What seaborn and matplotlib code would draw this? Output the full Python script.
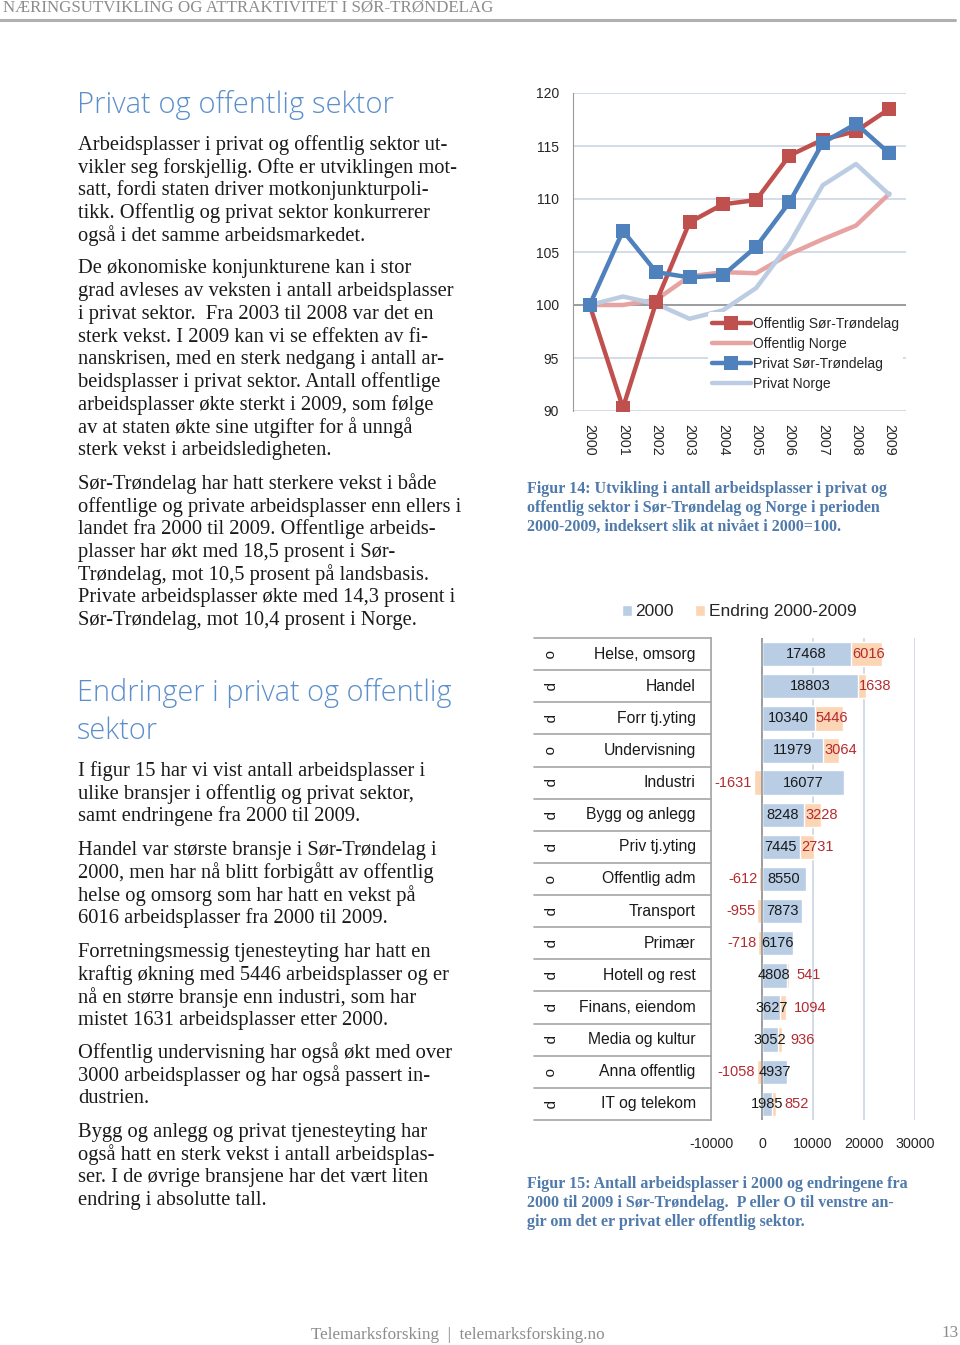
import matplotlib
matplotlib.use("Agg")
import matplotlib.pyplot as plt
import matplotlib.transforms as mtransforms
from matplotlib.lines import Line2D
import seaborn as sns
import pandas as pd
import numpy as np

W, H = 960, 1345

# --- Figur 14: indeks, 2000 = 100 ---
years = [str(y) for y in range(2000, 2010)]
off_st = [100, 90.3, 100.3, 107.8, 109.5, 109.9, 114.1, 115.6, 116.4, 118.5]
off_no = [100, 100.0, 100.5, 102.7, 103.1, 103.0, 104.8, 106.2, 107.5, 110.5]
priv_st = [100, 107.0, 103.1, 102.6, 102.8, 105.5, 109.7, 115.3, 117.1, 114.3]
priv_no = [100, 100.8, 100.1, 98.7, 99.5, 101.6, 105.8, 111.3, 113.3, 110.4]
series_names = ["Offentlig Sør-Trøndelag", "Offentlig Norge",
                "Privat Sør-Trøndelag", "Privat Norge"]
y_ticks = [90, 95, 100, 105, 110, 115, 120]

# --- Figur 15: arbeidsplasser 2000 og endring 2000-2009 ---
sectors = ["o", "p", "p", "o", "p", "p", "p", "o", "p", "p", "p", "p", "p", "o", "p"]
branches = ["Helse, omsorg", "Handel", "Forr tj.yting", "Undervisning", "Industri",
            "Bygg og anlegg", "Priv tj.yting", "Offentlig adm", "Transport", "Primær",
            "Hotell og rest", "Finans, eiendom", "Media og kultur", "Anna offentlig",
            "IT og telekom"]
jobs_2000 = [17468, 18803, 10340, 11979, 16077, 8248, 7445, 8550, 7873, 6176,
             4808, 3627, 3052, 4937, 1985]
change = [6016, 1638, 5446, 3064, -1631, 3228, 2731, -612, -955, -718,
          541, 1094, 936, -1058, 852]
x_ticks = [-10000, 0, 10000, 20000, 30000]

# text of the page
header = "NÆRINGSUTVIKLING OG ATTRAKTIVITET I SØR-TRØNDELAG"
heading1 = ["Privat og offentlig sektor"]
heading2 = ["Endringer i privat og offentlig", "sektor"]
paragraphs = [
    ["Arbeidsplasser i privat og offentlig sektor ut-",
     "vikler seg forskjellig. Ofte er utviklingen mot-",
     "satt, fordi staten driver motkonjunkturpoli-",
     "tikk. Offentlig og privat sektor konkurrerer",
     "også i det samme arbeidsmarkedet."],
    ["De økonomiske konjunkturene kan i stor",
     "grad avleses av veksten i antall arbeidsplasser",
     "i privat sektor.  Fra 2003 til 2008 var det en",
     "sterk vekst. I 2009 kan vi se effekten av fi-",
     "nanskrisen, med en sterk nedgang i antall ar-",
     "beidsplasser i privat sektor. Antall offentlige",
     "arbeidsplasser økte sterkt i 2009, som følge",
     "av at staten økte sine utgifter for å unngå",
     "sterk vekst i arbeidsledigheten."],
    ["Sør-Trøndelag har hatt sterkere vekst i både",
     "offentlige og private arbeidsplasser enn ellers i",
     "landet fra 2000 til 2009. Offentlige arbeids-",
     "plasser har økt med 18,5 prosent i Sør-",
     "Trøndelag, mot 10,5 prosent på landsbasis.",
     "Private arbeidsplasser økte med 14,3 prosent i",
     "Sør-Trøndelag, mot 10,4 prosent i Norge."],
    ["I figur 15 har vi vist antall arbeidsplasser i",
     "ulike bransjer i offentlig og privat sektor,",
     "samt endringene fra 2000 til 2009."],
    ["Handel var største bransje i Sør-Trøndelag i",
     "2000, men har nå blitt forbigått av offentlig",
     "helse og omsorg som har hatt en vekst på",
     "6016 arbeidsplasser fra 2000 til 2009."],
    ["Forretningsmessig tjenesteyting har hatt en",
     "kraftig økning med 5446 arbeidsplasser og er",
     "nå en større bransje enn industri, som har",
     "mistet 1631 arbeidsplasser etter 2000."],
    ["Offentlig undervisning har også økt med over",
     "3000 arbeidsplasser og har også passert in-",
     "dustrien."],
    ["Bygg og anlegg og privat tjenesteyting har",
     "også hatt en sterk vekst i antall arbeidsplas-",
     "ser. I de øvrige bransjene har det vært liten",
     "endring i absolutte tall."],
]
para_top = [145, 269, 484, 771, 850, 952, 1053, 1132]
caption14 = ["Figur 14: Utvikling i antall arbeidsplasser i privat og",
             "offentlig sektor i Sør-Trøndelag og Norge i perioden",
             "2000-2009, indeksert slik at nivået i 2000=100."]
caption15 = ["Figur 15: Antall arbeidsplasser i 2000 og endringene fra",
             "2000 til 2009 i Sør-Trøndelag.  P eller O til venstre an-",
             "gir om det er privat eller offentlig sektor."]

sns.set_style("white")
plt.rcParams["font.family"] = ["Liberation Sans", "DejaVu Sans"]
plt.rcParams["axes.unicode_minus"] = False

SERIF = ["Liberation Serif", "DejaVu Serif"]
HEAD_FONT = ["Open Sans", "DejaVu Sans"]
HEAD_BLUE = "#5b8fcb"
CAP_BLUE = "#4f7aab"
GRID = "#c8d3e0"
AXIS_GRAY = "#9a9a9a"


def fx(x):
    return x / W


def fy(y):
    return 1 - y / H


def rect(x0, y0, x1, y1):
    return [fx(x0), fy(y1), fx(x1) - fx(x0), fy(y0) - fy(y1)]


fig = plt.figure(figsize=(W / 100, H / 100), dpi=100)

# page furniture
fig.text(fx(3), fy(8), header, family=SERIF, fontsize=12.2, color="#8c8c8c",
         ha="left", va="center")
fig.add_artist(Line2D([0, fx(955)], [fy(20), fy(20)], color="#b0b0b0", lw=2.2))
fig.text(fx(458), fy(1335), "Telemarksforsking  |  telemarksforsking.no", family=SERIF,
         fontsize=12.3, color="#8c8c8c", ha="center", va="center")
fig.text(fx(959), fy(1333), "13", family=SERIF, fontsize=12.3, color="#8c8c8c",
         ha="right", va="center")

# left column text
LINE = 22.7
fig.text(fx(77), fy(105), heading1[0], family=HEAD_FONT,
         fontsize=21, fontweight="light", color=HEAD_BLUE, ha="left", va="center")
for k, line in enumerate(heading2):
    fig.text(fx(77), fy(693 + 38 * k), line, family=HEAD_FONT,
             fontsize=20.8, fontweight="light", color=HEAD_BLUE, ha="left", va="center")
for top, para in zip(para_top, paragraphs):
    for k, line in enumerate(para):
        fig.text(fx(78), fy(top + LINE * k), line, family=SERIF, fontsize=14.8,
                 color="#1a1a1a", ha="left", va="center")

for k, line in enumerate(caption14):
    fig.text(fx(527), fy(489 + 19 * k), line, family=SERIF, fontsize=11.5, fontweight="bold",
             color=CAP_BLUE, ha="left", va="center")
for k, line in enumerate(caption15):
    fig.text(fx(527), fy(1184 + 19 * k), line, family=SERIF, fontsize=11.5, fontweight="bold",
             color=CAP_BLUE, ha="left", va="center")

# ---------------- Figur 14: line chart ----------------
df_lines = pd.DataFrame({
    "år": years * 4,
    "indeks": off_st + off_no + priv_st + priv_no,
    "serie": np.repeat(series_names, len(years)),
})
palette = {
    "Offentlig Sør-Trøndelag": "#c0504d",
    "Offentlig Norge": "#e6a3a1",
    "Privat Sør-Trøndelag": "#4f81bd",
    "Privat Norge": "#bccde3",
}

ax1 = fig.add_axes(rect(573, 93, 906, 411))
draw_order = ["Offentlig Norge", "Privat Norge", "Offentlig Sør-Trøndelag", "Privat Sør-Trøndelag"]
for name in draw_order:
    sub = df_lines[df_lines["serie"] == name]
    marker = "s" if "Sør" in name else None
    sns.lineplot(data=sub, x="år", y="indeks", ax=ax1, color=palette[name], lw=3.2,
                 marker=marker, markersize=10, markeredgewidth=0, label=name, sort=False)

ax1.set_ylim(90, 120)
ax1.set_xlim(-0.5, len(years) - 0.5)
ax1.set_yticks(y_ticks)
ax1.yaxis.grid(True, color=GRID, lw=1.1)
ax1.set_axisbelow(True)
ax1.axhline(100, color="#8c8c8c", lw=1.1, zorder=1)
ax1.set_xlabel("")
ax1.set_ylabel("")
for s in ["top", "right", "bottom"]:
    ax1.spines[s].set_visible(False)
ax1.spines["left"].set_color(AXIS_GRAY)
ax1.tick_params(axis="y", length=3, color=AXIS_GRAY, pad=7, labelsize=10)
ax1.tick_params(axis="x", length=0, pad=9, labelsize=10.3, labelrotation=-90)

handles, labels = ax1.get_legend_handles_labels()
lookup = dict(zip(labels, handles))
ax1.legend([lookup[n] for n in series_names], series_names, loc="upper left",
           bbox_to_anchor=(0.405, 0.31), frameon=True, facecolor="white", edgecolor="none",
           framealpha=1, fontsize=10, handlelength=2.8, handletextpad=0.15,
           labelspacing=0.45, borderpad=0.3, borderaxespad=0)

# ---------------- Figur 15: stacked horizontal bars ----------------
df_bars = pd.DataFrame({"sektor": sectors, "bransje": branches,
                        "2000": jobs_2000, "endring": change})
df_bars["topp"] = df_bars["2000"] + df_bars["endring"].clip(lower=0)
df_bars["ned"] = df_bars["endring"].clip(upper=0)

BLUE_BAR = "#b9cde5"
ORANGE_BAR = "#fcd5b5"
RED_TXT = "#b52a2f"

ax2 = fig.add_axes(rect(711, 638, 915, 1120))
sns.barplot(data=df_bars, y="bransje", x="topp", color=ORANGE_BAR, saturation=1,
            width=0.76, errorbar=None, ax=ax2)
sns.barplot(data=df_bars, y="bransje", x="2000", color=BLUE_BAR, saturation=1,
            width=0.76, errorbar=None, ax=ax2)
sns.barplot(data=df_bars, y="bransje", x="ned", color=ORANGE_BAR, saturation=1,
            width=0.76, errorbar=None, ax=ax2)

n = len(branches)
ax2.set_xlim(x_ticks[0], x_ticks[-1])
ax2.set_ylim(n - 0.5, -0.5)
ax2.set_xticks(x_ticks)
ax2.set_xticklabels([str(v) for v in x_ticks])
ax2.xaxis.grid(True, color=GRID, lw=1.1)
ax2.set_axisbelow(True)
ax2.axvline(0, color="#8c8c8c", lw=1.1, zorder=1.5)
ax2.set_xlabel("")
ax2.set_ylabel("")
for s in ["top", "right", "bottom"]:
    ax2.spines[s].set_visible(False)
ax2.spines["left"].set_color("#a6a6a6")
ax2.spines["left"].set_linewidth(1.2)
ax2.tick_params(axis="y", length=0, labelleft=False)
ax2.tick_params(axis="x", length=0, pad=12, labelsize=10.3)

# sector/branch table on the left of the bars
blend = mtransforms.blended_transform_factory(ax2.transAxes, ax2.transData)
for i in range(n + 1):
    ax2.plot([-0.868, 0], [i - 0.5, i - 0.5], transform=blend, clip_on=False,
             color="#a6a6a6", lw=1.2)
for i, (sec, name) in enumerate(zip(sectors, branches)):
    ax2.text(-0.795, i, sec, transform=blend, rotation=-90, ha="center", va="center",
             fontsize=11, color="#1a1a1a")
    ax2.text(-0.075, i, name, transform=blend, ha="right", va="center",
             fontsize=11.3, color="#1a1a1a")

# value labels
for i, (base, ch) in enumerate(zip(jobs_2000, change)):
    ax2.text(base / 2, i, str(base), ha="center", va="center", fontsize=10.5,
             color="#1a1a1a")
    if ch >= 1200:
        ax2.text(base + 200, i, str(ch), ha="left", va="center", fontsize=10.5, color=RED_TXT)
    elif ch > 0:
        ax2.text(base + ch + 1500, i, str(ch), ha="left", va="center", fontsize=10.5,
                 color=RED_TXT)
    else:
        ax2.text(min(ch, -500) - 300, i, str(ch), ha="right", va="center", fontsize=10.5,
                 color=RED_TXT)

blue_handle = ax2.containers[1]
orange_handle = ax2.containers[0]
fig.legend([blue_handle, orange_handle], ["2000", "Endring 2000-2009"], loc="center",
           bbox_to_anchor=(fx(739), fy(612)), ncol=2, frameon=False, fontsize=12.5,
           handlelength=0.6, handleheight=0.6, handletextpad=0.2, columnspacing=1.2)

fig.savefig("out.png", dpi=100, facecolor="white")
